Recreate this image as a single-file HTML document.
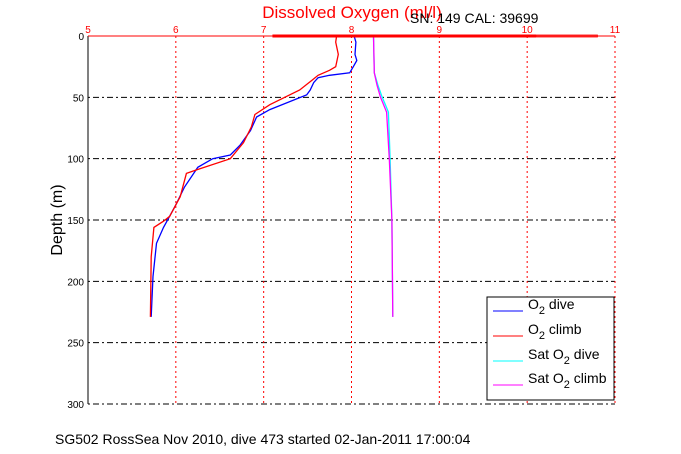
<!DOCTYPE html>
<html><head><meta charset="utf-8"><style>
body{margin:0;background:#fff}
svg{display:block;font-family:"Liberation Sans",sans-serif}
</style></head><body>
<svg id="chart" width="681" height="454" viewBox="0 0 681 454">
<rect width="681" height="454" fill="#fff"/>
<g id="grid"></g><g id="series"></g><g id="axes"></g>
<text x="352" y="18" font-size="17" fill="#f00" text-anchor="middle">Dissolved Oxygen (ml/l)</text>
<text x="410" y="23" font-size="14" fill="#000">SN: 149  CAL: 39699</text>
<text transform="translate(62,220) rotate(-90)" font-size="16" text-anchor="middle">Depth (m)</text>
<text x="55" y="444" font-size="14">SG502 RossSea Nov 2010, dive 473 started 02-Jan-2011 17:00:04</text>
<g>
<rect x="487" y="297" width="127" height="103" fill="#fff" stroke="#000"/>
<line x1="493" y1="311" x2="523" y2="311" stroke="#00f"/><text x="528" y="309" font-size="14">O<tspan font-size="11" dy="5">2</tspan><tspan dy="-5"> dive</tspan></text>
<line x1="493" y1="336" x2="523" y2="336" stroke="#f00"/><text x="528" y="334" font-size="14">O<tspan font-size="11" dy="5">2</tspan><tspan dy="-5"> climb</tspan></text>
<line x1="493" y1="361" x2="523" y2="361" stroke="#0ff"/><text x="528" y="359" font-size="14">Sat O<tspan font-size="11" dy="5">2</tspan><tspan dy="-5"> dive</tspan></text>
<line x1="493" y1="385" x2="523" y2="385" stroke="#f0f"/><text x="528" y="383" font-size="14">Sat O<tspan font-size="11" dy="5">2</tspan><tspan dy="-5"> climb</tspan></text>
</g>
</svg>
<script>
const xTicks=[5,6,7,8,9,10,11];
const yTicks=[0,50,100,150,200,250,300];
const diveDepth=[0,5,15,20,25,30,32,34,38,44,48,60,66,77,89,97,100,107,123,139,156,169,196,229];
const diveO2=[8.03,8.05,8.04,8.06,8.02,7.98,7.75,7.62,7.57,7.53,7.49,7.07,6.92,6.85,6.73,6.62,6.42,6.25,6.10,5.99,5.86,5.78,5.74,5.72];
const climbDepth=[0,5,15,25,28,32,36,40,44,56,64,74,87,100,109,112,131,147,151,156,180,229];
const climbO2=[7.83,7.82,7.85,7.82,7.75,7.62,7.55,7.48,7.41,7.07,6.90,6.86,6.77,6.62,6.24,6.12,6.05,5.93,5.86,5.75,5.72,5.71];
const satDepth=[0,30,40,50,55,62,100,150,229];
const satDiveO2=[8.25,8.26,8.30,8.35,8.38,8.42,8.44,8.46,8.47];
const satClimbO2=[8.25,8.26,8.29,8.33,8.36,8.40,8.43,8.46,8.47];
const NS='http://www.w3.org/2000/svg';
const X0=88,X1=615,Y0=36,Y1=404;
const xs=v=>X0+(v-5)/6*(X1-X0);
const ys=d=>Y0+d/300*(Y1-Y0);
function mk(t,a,p){const e=document.createElementNS(NS,t);for(const k in a)e.setAttribute(k,a[k]);p.appendChild(e);return e;}
const grid=document.getElementById('grid'),axes=document.getElementById('axes'),ser=document.getElementById('series');
yTicks.forEach(v=>{
 if(v>0){const l=mk('line',{x1:X0,y1:ys(v),x2:X1,y2:ys(v),stroke:'#000','stroke-dasharray':'2,3,6,3'},grid);
 
 }
 const t=mk('text',{x:84,y:ys(v)+4,'font-size':10,'text-anchor':'end'},axes);
 t.textContent=v;
 
 
});
xTicks.forEach(v=>{
 if(v>5){const l=mk('line',{x1:xs(v),y1:Y0,x2:xs(v),y2:Y1,stroke:'#f00','stroke-dasharray':'2,3'},grid);
 
 }
 const t=mk('text',{x:xs(v),y:33,'font-size':10,fill:'#f00','text-anchor':'middle'},axes);
 t.textContent=v;
 
 
});
const la=mk('line',{x1:X0,y1:Y0,x2:X0,y2:Y1,stroke:'#000'},axes);


const ta=mk('line',{x1:X0,y1:Y0,x2:X1,y2:Y0,stroke:'#f00'},axes);


const bar=mk('rect',{x:xs(7.1),y:Y0-1.5,width:xs(10.1)-xs(7.1),height:3,fill:'#f00'},axes);


const bar2=mk('rect',{x:xs(10.1),y:Y0-1,width:xs(10.8)-xs(10.1),height:2,fill:'none',stroke:'#f00','stroke-width':0.8},axes);


function line(dep,val,col,name){
 const pts=dep.map((d,i)=>xs(val[i]).toFixed(1)+','+ys(d).toFixed(1)).join(' ');
 const p=mk('polyline',{points:pts,fill:'none',stroke:col,'stroke-width':1.3},ser);
 
 
}
line(satDepth,satDiveO2,'#0ff','sat-o2-dive-line');
line(satDepth,satClimbO2,'#f0f','sat-o2-climb-line');
line(diveDepth,diveO2,'#00f','o2-dive-line');
line(climbDepth,climbO2,'#f00','o2-climb-line');
</script>
</body></html>
